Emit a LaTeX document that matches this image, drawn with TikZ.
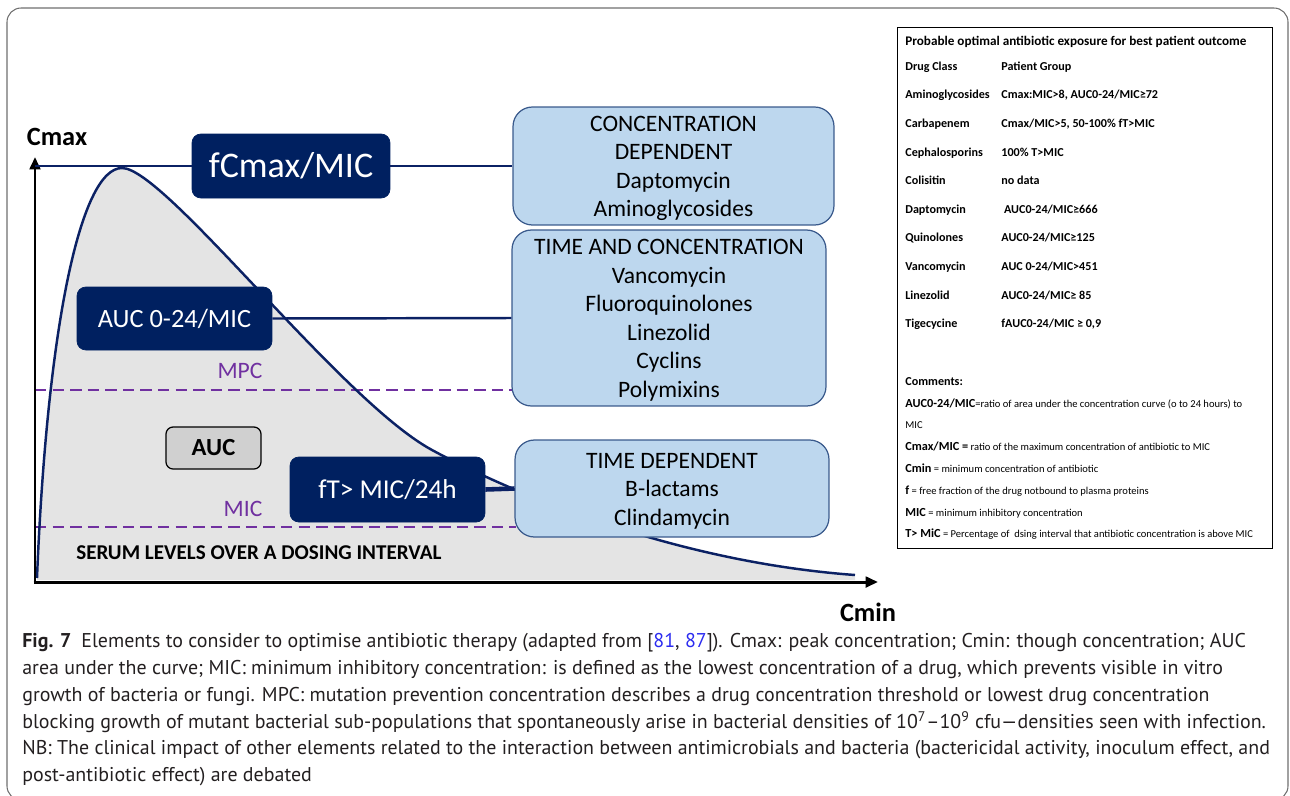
\documentclass[tikz,border=0pt]{standalone}
\usepackage{fontspec}
\setmainfont{Carlito}
\newfontfamily\capfont{PT Sans}
\usetikzlibrary{arrows.meta}
\definecolor{navybox}{HTML}{002060}
\definecolor{curveblue}{HTML}{0B2164}
\definecolor{lightblue}{HTML}{BDD7EE}
\definecolor{blueedge}{HTML}{3A5A8C}
\definecolor{mpcpurple}{HTML}{7030A0}
\definecolor{areagray}{HTML}{E4E4E4}
\definecolor{aucgray}{HTML}{D0D0D0}
\definecolor{framegray}{HTML}{6E6E6E}
\definecolor{captext}{HTML}{231F20}
\definecolor{citeblue}{HTML}{2B2BF0}
\newcommand\cmtterm[1]{{\fontsize{7}{8}\selectfont\bfseries #1}}
\tikzset{
	darkbox/.style={draw=navybox, fill=navybox, text=white, rounded corners=5pt, inner sep=0pt},
	bluebox/.style={draw=blueedge, line width=0.7pt, fill=lightblue, rounded corners=11pt, inner sep=0pt, align=center, font=\fontsize{13.4}{16.2}\selectfont},
	linkline/.style={draw=curveblue, line width=1.4pt},
	levelline/.style={draw=mpcpurple, line width=1.4pt, dash pattern=on 6.5pt off 3.5pt},
	levellabel/.style={text=mpcpurple, font=\fontsize{13.4}{16}\selectfont, inner sep=0pt},
	axisline/.style={line width=1.7pt, -{Triangle[length=7pt, width=6pt]}},
	rowtext/.style={anchor=west, inner sep=0pt, text height=1.5ex, text depth=.3ex, font=\fontsize{6.9}{8}\selectfont\bfseries},
	cmttext/.style={anchor=west, inner sep=0pt, text height=1.6ex, text depth=.3ex, font=\fontsize{6}{7}\selectfont},
	capline/.style={anchor=base west, inner sep=0pt, text=captext, font=\capfont\fontsize{11.35}{14}\selectfont}
}

\begin{document}
\begin{tikzpicture}[x=0.02cm, y=-0.02cm]
	%%%%% START %%%%%
	\useasboundingbox (0,0) rectangle (1290,795);
	\draw[framegray, line width=0.6pt, rounded corners=8pt] (7,8) rectangle (1288,800);
	
	% area under the curve
	\fill[areagray] (37,578) .. controls (47,330) and (80,168) .. (122,168)
		.. controls (165,168) and (340,400) .. (432,450)
		.. controls (480,476) and (650,560) .. (855,575) -- (855,580) -- (37,580) -- cycle;
	
	% MPC and MIC levels
	\coordinate (mpcstart) at (35,390);
	\coordinate (mpcend) at (514,390);
	\coordinate (micstart) at (35,527);
	\coordinate (micend) at (516,527);
	\draw[levelline] (mpcstart) -- (mpcend);
	\draw[levelline] (micstart) -- (micend);
	\node[levellabel] (mpclbl) at (240,371) {MPC};
	\node[levellabel] (miclbl) at (243,509) {MIC};
	
	\draw[curveblue, line width=1.4pt] (37,578) .. controls (47,330) and (80,168) .. (122,168)
		.. controls (165,168) and (340,400) .. (432,450)
		.. controls (480,476) and (650,560) .. (855,575);
	
	% axes
	\coordinate (origin) at (35,582);
	\coordinate (ytop) at (35,157);
	\coordinate (xend) at (878,582);
	\coordinate (cmaxlvl) at (35,166);
	\draw[axisline] (origin) -- (ytop);
	\draw[axisline] ([xshift=-0.8pt]origin) -- (xend);
	\node[font=\fontsize{15}{18}\selectfont\bfseries, inner sep=0pt] (cmax) at (57,137) {Cmax};
	\node[font=\fontsize{15}{18}\selectfont\bfseries, inner sep=0pt] (cmin) at (868,612) {Cmin};
	
	% PK/PD indices
	\node[darkbox, minimum width=3.96cm, minimum height=1.28cm, font=\fontsize{20.5}{24}\selectfont] (fcmax) at (291,166) {fCmax/MIC};
	\node[darkbox, minimum width=3.9cm, minimum height=1.26cm, font=\fontsize{15}{18}\selectfont] (aucmic) at (174.5,318.5) {AUC 0-24/MIC};
	\node[darkbox, minimum width=3.9cm, minimum height=1.3cm, font=\fontsize{15.5}{18}\selectfont] (ftmic) at (387.5,489.5) {fT> MIC/24h};
	\node[draw=black, line width=0.7pt, fill=aucgray, rounded corners=4pt, minimum width=1.9cm, minimum height=0.84cm, font=\fontsize{14}{16}\selectfont\bfseries] (auc) at (213.5,448) {AUC};
	\node[font=\fontsize{12}{14}\selectfont\bfseries, anchor=west, inner sep=0pt] (serum) at (76,553) {SERUM LEVELS OVER A DOSING INTERVAL};
	
	% drug groups
	\node[bluebox, minimum width=6.42cm, minimum height=2.36cm] (concdep) at (673.5,166) {\strut CONCENTRATION\\DEPENDENT\\Daptomycin\\Aminoglycosides};
	\node[bluebox, minimum width=6.28cm, minimum height=3.52cm] (timeconc) at (669,318) {\strut TIME AND CONCENTRATION\\Vancomycin\\Fluoroquinolones\\Linezolid\\Cyclins\\Polymixins};
	\node[bluebox, minimum width=6.28cm, minimum height=1.94cm] (timedep) at (672,488.5) {\strut TIME DEPENDENT\\B-lactams\\Clindamycin};
	
	\draw[linkline] (cmaxlvl) -- (fcmax.west);
	\draw[linkline] (fcmax.east) -- (concdep.west);
	\draw[linkline] (aucmic.east) -- (timeconc.west);
	\draw[linkline, line width=2.6pt] (ftmic.east) -- (timedep.west);
	
	% table of targets
	\node[draw=black, line width=0.5pt, minimum width=7.5cm, minimum height=10.42cm, inner sep=0pt] (tablebox) at (1084.5,287.5) {};
	\node[rowtext, font=\fontsize{7.5}{8}\selectfont\bfseries] (tabtitle) at (905,40) {Probable optimal antibiotic exposure for best patient outcome};
	\foreach \yy/\drug/\target [count=\k] in {65/Drug Class/Patient Group,
		93/Aminoglycosides/{Cmax:MIC>8, AUC0-24/MIC≥72},
		122/Carbapenem/{Cmax/MIC>5, 50-100\% fT>MIC},
		151/Cephalosporins/{100\% T>MIC},
		179/Colisitin/no data,
		208/Daptomycin/{\ AUC0-24/MIC≥666},
		236/Quinolones/{AUC0-24/MIC≥125},
		265/Vancomycin/{AUC 0-24/MIC>451},
		294/Linezolid/{AUC0-24/MIC≥ 85},
		322/Tigecycine/{fAUC0-24/MIC ≥ 0,9}}{
		\node[rowtext] (drug\k) at (905,\yy) {\drug};
		\node[rowtext] (target\k) at (1001,\yy) {\target};
	}
	\node[rowtext] (cmthead) at (905,380) {Comments:};
	\node[cmttext] (cmt1) at (905,402) {\cmtterm{AUC0-24/MIC}=ratio of area under the concentration curve (o to 24 hours) to};
	\node[cmttext] (cmt2) at (905,423) {MIC};
	\node[cmttext] (cmt3) at (905,445) {\cmtterm{Cmax/MIC =} ratio of the maximum concentration of antibiotic to MIC};
	\node[cmttext] (cmt4) at (905,467) {\cmtterm{Cmin} = minimum concentration of antibiotic};
	\node[cmttext] (cmt5) at (905,489) {\cmtterm{f} = free fraction of the drug notbound to plasma proteins};
	\node[cmttext] (cmt6) at (905,511) {\cmtterm{MIC} = minimum inhibitory concentration};
	\node[cmttext] (cmt7) at (905,532) {\cmtterm{T> MiC} = Percentage of \ dsing interval that antibiotic concentration is above MIC};
	
	% caption
	\node[capline] (cap1) at (22,647) {\textbf{Fig. 7}\enspace Elements to consider to optimise antibiotic therapy (adapted from [{\color{citeblue}81}, {\color{citeblue}87}]). Cmax: peak concentration; Cmin: though concentration; AUC};
	\node[capline] (cap2) at (22,674) {area under the curve; MIC: minimum inhibitory concentration: is defined as the lowest concentration of a drug, which prevents visible in vitro};
	\node[capline] (cap3) at (22,701) {growth of bacteria or fungi. MPC: mutation prevention concentration describes a drug concentration threshold or lowest drug concentration};
	\node[capline] (cap4) at (22,728) {blocking growth of mutant bacterial sub-populations that spontaneously arise in bacterial densities of 10\textsuperscript{7}–10\textsuperscript{9} cfu—densities seen with infection.};
	\node[capline] (cap5) at (22,754) {NB: The clinical impact of other elements related to the interaction between antimicrobials and bacteria (bactericidal activity, inoculum effect, and};
	\node[capline] (cap6) at (22,781) {post-antibiotic effect) are debated};
	%%%%% END %%%%%
\end{tikzpicture}
\end{document}
